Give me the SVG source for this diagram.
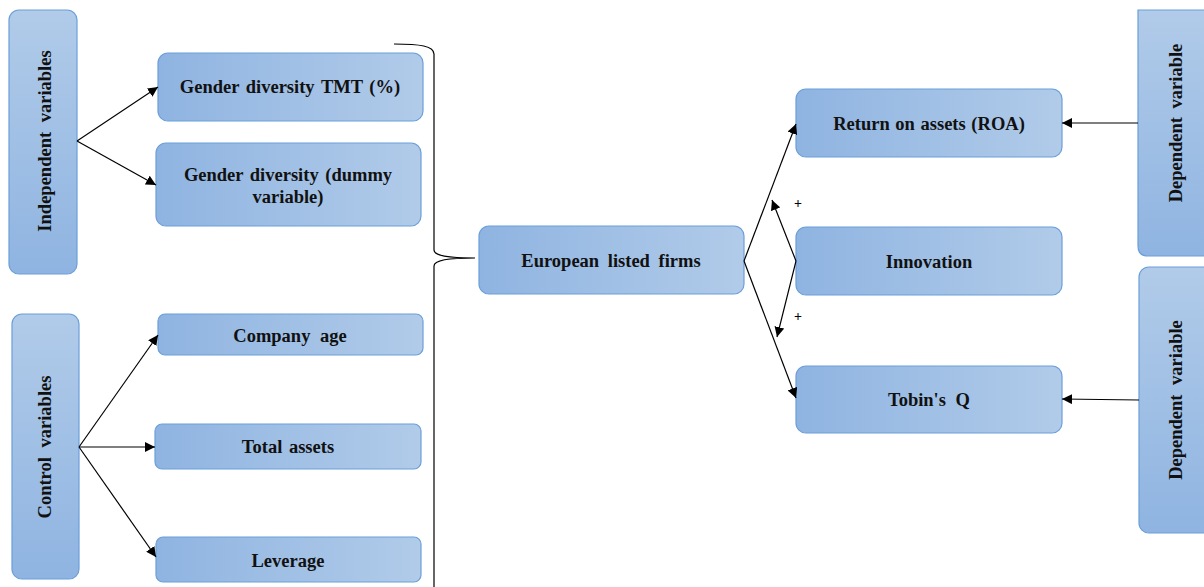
<svg xmlns="http://www.w3.org/2000/svg" width="1204" height="587" viewBox="0 0 1204 587">
<defs>
<linearGradient id="gh" x1="0" y1="0" x2="1" y2="0">
<stop offset="0" stop-color="#8fb4e1"/>
<stop offset="1" stop-color="#b1cbe9"/>
</linearGradient>
<linearGradient id="gv" x1="0" y1="0" x2="0" y2="1">
<stop offset="0" stop-color="#b1cbe9"/>
<stop offset="1" stop-color="#8fb4e1"/>
</linearGradient>
<marker id="ah" viewBox="0 0 10 10" refX="10" refY="5" markerWidth="10" markerHeight="10" markerUnits="userSpaceOnUse" orient="auto">
<path d="M0,0 L10,5 L0,10 z" fill="#000"/>
</marker>
</defs>
<style>
.bh{fill:url(#gh);stroke:#6b9fd9;stroke-width:1.2}
.bv{fill:url(#gv);stroke:#6b9fd9;stroke-width:1.2}
.t{font-family:"Liberation Serif","Times New Roman",serif;font-weight:bold;font-size:18.5px;word-spacing:2px;fill:#111;text-anchor:middle}
.c{stroke:#000;stroke-width:1.2;fill:none}
.p{font-family:"Liberation Serif","Times New Roman",serif;font-weight:bold;font-size:14px;fill:#000;text-anchor:middle}
</style>
<rect width="1204" height="587" fill="#fff"/>
<g id="indep"><rect class="bv" x="9" y="10" width="68" height="264" rx="10"/><text class="t" transform="translate(51,141) rotate(-90)" style="word-spacing:5px">Independent variables</text></g>
<g id="gd-tmt"><rect class="bh" x="158" y="53" width="265" height="68" rx="10"/><text class="t" x="290" y="93">Gender diversity TMT (%)</text></g>
<g id="gd-dummy"><rect class="bh" x="156" y="143" width="265" height="83" rx="10"/><text class="t" x="288" y="181">Gender diversity (dummy</text><text class="t" x="288" y="203">variable)</text></g>
<g id="control"><rect class="bv" x="12" y="314" width="67" height="265" rx="10"/><text class="t" transform="translate(51,447) rotate(-90)" style="word-spacing:5px">Control variables</text></g>
<g id="age"><rect class="bh" x="158" y="314" width="265" height="41" rx="7"/><text class="t" x="290" y="342" style="word-spacing:5px">Company age</text></g>
<g id="assets"><rect class="bh" x="155" y="424" width="266" height="45" rx="7"/><text class="t" x="288" y="453">Total assets</text></g>
<g id="leverage"><rect class="bh" x="156" y="537" width="265" height="45" rx="7"/><text class="t" x="288" y="567">Leverage</text></g>
<g id="european"><rect class="bh" x="479" y="226" width="265" height="68" rx="10"/><text class="t" x="611" y="267" style="word-spacing:4px">European listed firms</text></g>
<g id="roa"><rect class="bh" x="796" y="89" width="266" height="68" rx="10"/><text class="t" x="929" y="130" style="word-spacing:1px">Return on assets (ROA)</text></g>
<g id="innovation"><rect class="bh" x="796" y="227" width="266" height="68" rx="10"/><text class="t" x="929" y="268">Innovation</text></g>
<g id="tobin"><rect class="bh" x="796" y="366" width="266" height="67" rx="10"/><text class="t" x="929" y="406" style="word-spacing:5px">Tobin's Q</text></g>
<g id="dep1"><path class="bv" d="M1138,10 L1214,10 L1214,256 L1148,256 Q1138,256 1138,246 Z"/><text class="t" transform="translate(1182,123) rotate(-90)" style="word-spacing:4px">Dependent variable</text></g>
<g id="dep2"><rect class="bv" x="1139" y="267" width="76" height="266" rx="10"/><text class="t" transform="translate(1182,400) rotate(-90)" style="word-spacing:5px">Dependent variable</text></g>
<g id="connectors">
<path class="c" d="M77,141 L158,87" marker-end="url(#ah)"/>
<path class="c" d="M77,141 L156,185" marker-end="url(#ah)"/>
<path class="c" d="M79,447 L158,335" marker-end="url(#ah)"/>
<path class="c" d="M79,447 L155,447" marker-end="url(#ah)"/>
<path class="c" d="M79,447 L156,557" marker-end="url(#ah)"/>
<path class="c" d="M394,44 C420,44 434,46 434,54 L434,250 C434,256 448,258 475,258 C448,258 434,260 434,266 L434,587"/>
<path class="c" d="M744,261 L796,124" marker-end="url(#ah)"/>
<path class="c" d="M744,261 L796,398" marker-end="url(#ah)"/>
<path class="c" d="M796,261 L772,200" marker-end="url(#ah)"/>
<path class="c" d="M796,261 L777,337" marker-end="url(#ah)"/>
<path class="c" d="M1138,123 L1062,123" marker-end="url(#ah)"/>
<path class="c" d="M1139,400 L1062,399" marker-end="url(#ah)"/>
<text class="p" x="798" y="208">+</text>
<text class="p" x="798" y="321">+</text>
</g>
</svg>
